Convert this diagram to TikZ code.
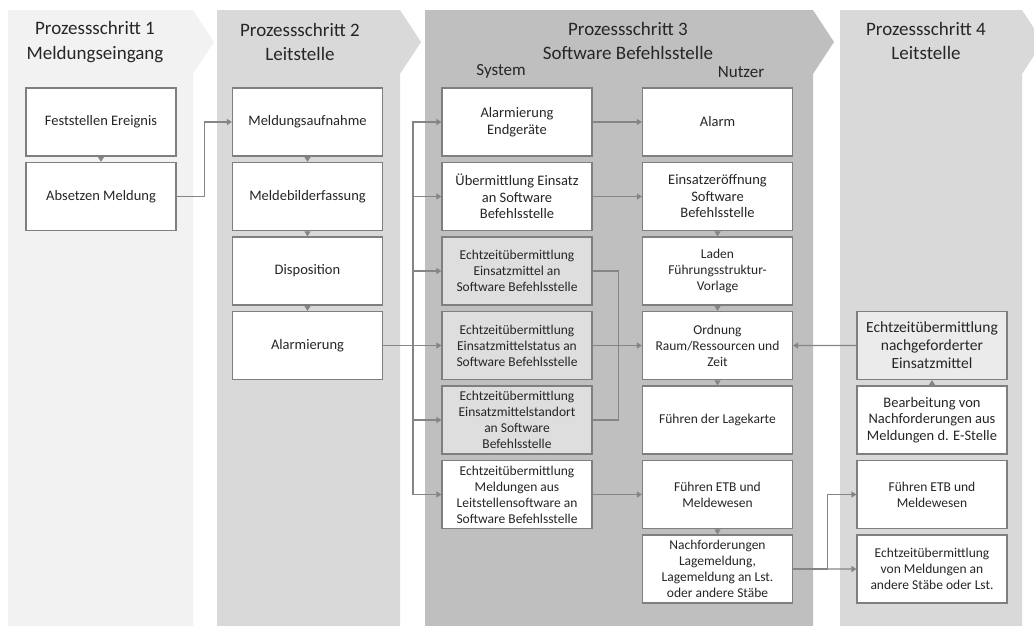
\documentclass[tikz,border=0pt]{standalone}
\usepackage{fontspec}
\setmainfont{Carlito}
\usetikzlibrary{arrows.meta, positioning}
\definecolor{stepone}{HTML}{F2F2F2}
\definecolor{steptwo}{HTML}{D9D9D9}
\definecolor{stepthree}{HTML}{BFBFBF}
\definecolor{boxline}{HTML}{7F7F7F}
\definecolor{boxgrey}{HTML}{DEDEDE}
\definecolor{arrowline}{HTML}{858585}
\definecolor{txt}{HTML}{262626}

\begin{document}
\begin{tikzpicture}[
    x=1pt, y=-1pt,
    node distance=5.3pt,
    box/.style={draw=boxline, line width=1.2pt, fill=white, minimum width=150pt, minimum height=68pt, align=center, inner sep=2pt, text=txt, font=\fontsize{14.5}{16.5}\selectfont},
    dense/.style={box, font=\fontsize{13.5}{16}\selectfont},
    greybox/.style={dense, fill=boxgrey},
    head/.style={align=center, text=txt, font=\fontsize{19}{24.5}\selectfont},
    colhead/.style={text=txt, font=\fontsize{17}{20}\selectfont},
    flow/.style={draw=arrowline, line width=1.2pt, -{Triangle[length=5pt, width=6pt]}}
  ]
    \clip (0,0) rectangle (1034,625);
    % process step panels
    \fill[stepone] (8,10) -- (193,10) -- (214,42) -- (193,74) -- (193,630) -- (8,630) -- cycle;
    \fill[steptwo] (217,10) -- (400,10) -- (421,42) -- (400,74) -- (400,630) -- (217,630) -- cycle;
    \fill[stepthree] (425,10) -- (813,10) -- (834,42) -- (813,74) -- (813,630) -- (425,630) -- cycle;
    \fill[steptwo] (840,10) -- (1022,10) -- (1043,42) -- (1022,74) -- (1022,630) -- (840,630) -- cycle;

    \node[head] (h1) at (95,42) {Prozessschritt 1\\Meldungseingang};
    \node[head] (h2) at (300,42) {Prozessschritt 2\\Leitstelle};
    \node[head] (h3) at (628,41) {Prozessschritt 3\\Software Befehlsstelle};
    \node[head] (h4) at (926,41) {Prozessschritt 4\\Leitstelle};
    \node[colhead] (sys) at (501,71) {System};
    \node[colhead] (nutz) at (741,72) {Nutzer};

    % step 1
    \node[box] (fest) at (101,122) {Feststellen Ereignis};
    \node[box, below=of fest] (abs) {Absetzen Meldung};

    % step 2
    \node[box] (aufn) at (307.5,122) {Meldungsaufnahme};
    \node[box, below=of aufn] (bild) {Meldebilderfassung};
    \node[box, below=of bild] (dispo) {Disposition};
    \node[box, below=of dispo] (alarm) {Alarmierung};

    % step 3, system
    \node[box] (endg) at (517,122) {Alarmierung\\Endgeräte};
    \node[box, below=of endg] (uebm) {Übermittlung Einsatz\\an Software\\Befehlsstelle};
    \node[greybox, below=of uebm] (emittel) {Echtzeitübermittlung\\Einsatzmittel an\\Software Befehlsstelle};
    \node[greybox, below=of emittel] (estatus) {Echtzeitübermittlung\\Einsatzmittelstatus an\\Software Befehlsstelle};
    \node[greybox, below=of estatus] (estand) {Echtzeitübermittlung\\Einsatzmittelstandort\\an Software\\Befehlsstelle};
    \node[dense, below=of estand] (emeld) {Echtzeitübermittlung\\Meldungen aus\\Leitstellensoftware an\\Software Befehlsstelle};

    % step 3, user
    \node[box] (alarmn) at (717.5,122) {Alarm};
    \node[box, below=of alarmn] (eroeff) {Einsatzeröffnung\\Software\\Befehlsstelle};
    \node[dense, below=of eroeff] (laden) {Laden\\Führungsstruktur-\\Vorlage};
    \node[dense, below=of laden] (ordnung) {Ordnung\\Raum/Ressourcen und\\Zeit};
    \node[dense, below=of ordnung] (lagek) {Führen der Lagekarte};
    \node[dense, below=of lagek] (etb) {Führen ETB und\\Meldewesen};
    \node[dense, below=of etb] (nachf) {Nachforderungen\\Lagemeldung,\\Lagemeldung an Lst.\\oder andere Stäbe};

    % step 4
    \node[greybox, fill=boxgrey!60, font=\fontsize{15.5}{18}\selectfont] (nachein) at (932,345.5) {Echtzeitübermittlung\\nachgeforderter\\Einsatzmittel};
    \node[box, below=of nachein] (bearb) {Bearbeitung von\\Nachforderungen aus\\Meldungen d. E-Stelle};
    \node[dense, below=of bearb] (etbl) {Führen ETB und\\Meldewesen};
    \node[dense, below=of etbl] (emeldl) {Echtzeitübermittlung\\von Meldungen an\\andere Stäbe oder Lst.};

    \coordinate (bus) at (413,0);

    \draw[flow] (fest) -- (abs);
    \draw[flow] (abs.east) -- ++(28,0) |- (aufn.west);
    \draw[flow] (aufn) -- (bild);
    \draw[flow] (bild) -- (dispo);
    \draw[flow] (dispo) -- (alarm);

    \draw[flow] (alarm.east) -- (estatus.west);
    \draw[flow] (alarm.east -| bus) |- (endg.west);
    \draw[flow] (alarm.east -| bus) |- (uebm.west);
    \draw[flow] (alarm.east -| bus) |- (emittel.west);
    \draw[flow] (alarm.east -| bus) |- (estand.west);
    \draw[flow] (alarm.east -| bus) |- (emeld.west);

    \draw[flow] (endg) -- (alarmn);
    \draw[flow] (uebm) -- (eroeff);
    \draw[draw=arrowline, line width=1.2pt] (emittel.east) -- ++(26,0) |- (estand.east);
    \draw[flow] (estatus) -- (ordnung);
    \draw[flow] (emeld) -- (etb);

    \draw[flow] (eroeff) -- (laden);
    \draw[flow] (laden) -- (ordnung);
    \draw[flow] (ordnung) -- (lagek);
    \draw[flow] (etb) -- (nachf);

    \draw[flow] (nachein) -- (ordnung);
    \draw[flow] (bearb) -- (nachein);
    \draw[flow] (nachf.east) -- ++(34,0) |- (etbl.west);
    \draw[flow] (nachf) -- (emeldl);
  \end{tikzpicture}
\end{document}
